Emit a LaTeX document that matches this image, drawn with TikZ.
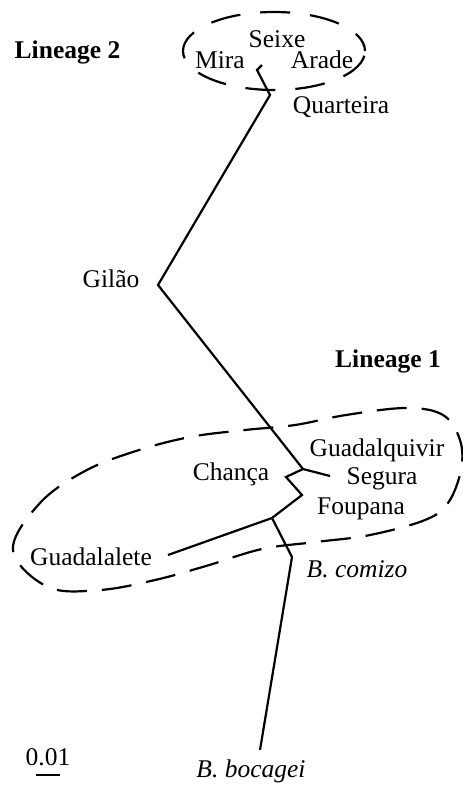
\documentclass[tikz,border=0pt]{standalone}
\usepackage{fontspec}
\setmainfont{Liberation Serif}
\begin{document}
\begin{tikzpicture}[x=1pt,y=-1pt,
  branch/.style={line width=2.2pt, line join=miter},
  lbl/.style={inner sep=0pt, anchor=base, font=\fontsize{25.5}{30}\selectfont},
  ilbl/.style={lbl, font=\fontsize{25.5}{30}\selectfont\itshape},
  blbl/.style={lbl, font=\fontsize{25.5}{30}\selectfont\bfseries},
  grp/.style={line width=2.2pt, dash pattern=on 30pt off 15pt}]
\useasboundingbox (0,0) rectangle (463,785);
% tree coordinates
\coordinate (t1) at (262,65);
\coordinate (t2) at (257,70);
\coordinate (t3) at (270,95);
\coordinate (t4) at (158,285);
\coordinate (t5) at (303,469);
\coordinate (t6) at (330,476);
\coordinate (t7) at (286,477);
\coordinate (t8) at (302,495);
\coordinate (t9) at (272,518);
\coordinate (t10) at (168,555);
\coordinate (t11) at (292,557);
\coordinate (t12) at (260,750);
\coordinate (s1) at (36,775);
\coordinate (s2) at (60,775);
% branches
\draw[branch] (t1) -- (t2) -- (t3) -- (t4) -- (t5) -- (t6);
\draw[branch] (t5) -- (t7) -- (t8) -- (t9) -- (t10);
\draw[branch] (t9) -- (t11) -- (t12);
\draw[line width=2.2pt] (s1) -- (s2);
% groups
\draw[grp, dash pattern=on 30pt off 20pt, dash phase=10pt] (274,51) ellipse [x radius=91pt, y radius=39pt];
\draw[grp, dash phase=5pt] plot[smooth cycle, tension=0.6] coordinates {
  (13,550) (40,503) (85,471) (136,451) (190,437) (245,430) (295,425)
  (346,415) (406,408) (443,415) (460,440) (461,470) (448,503) (425,520)
  (370,535) (316,542) (262,549) (206,566) (155,580) (100,590) (48,587)};
% labels
\node[blbl] (lin2) at (67.5,58) {Lineage 2};
\node[blbl] (lin1) at (388,367) {Lineage 1};
\node[lbl] (seixe) at (277,47) {Seixe};
\node[lbl] (mira) at (220,68) {Mira};
\node[lbl] (arade) at (322,68) {Arade};
\node[lbl] (quart) at (341,113) {Quarteira};
\node[lbl] (gilao) at (111,287) {Gilão};
\node[lbl] (chanca) at (231,480) {Chança};
\node[lbl] (guadq) at (377,456) {Guadalquivir};
\node[lbl] (segura) at (382,484) {Segura};
\node[lbl] (foup) at (361,514) {Foupana};
\node[lbl] (guadl) at (91,565) {Guadalalete};
\node[ilbl] (comizo) at (357,577) {B. comizo};
\node[ilbl] (bocagei) at (251,777) {B. bocagei};
\node[lbl] (scale) at (48,765) {0.01};
\end{tikzpicture}
\end{document}
